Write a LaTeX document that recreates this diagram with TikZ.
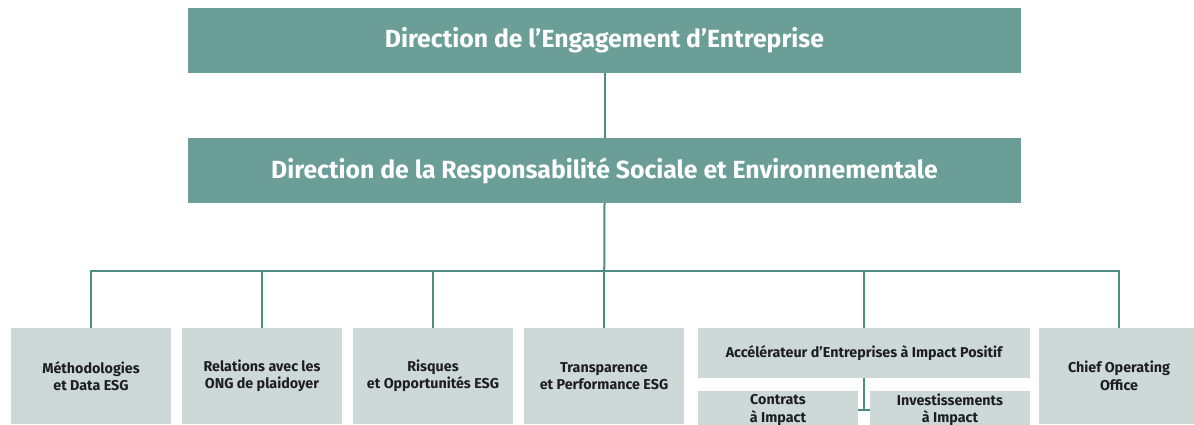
\documentclass[tikz,border=0pt]{standalone}
\usepackage{fontspec}
\setmainfont{Fira Sans}
\definecolor{darkteal}{HTML}{6A9E97}
\definecolor{lightbox}{HTML}{CCD9D7}
\definecolor{linecol}{HTML}{4D8C85}
\definecolor{textdark}{HTML}{1E1E1E}
\begin{document}
\begin{tikzpicture}[x=1pt,y=-1pt,
  headbox/.style={fill=darkteal, draw=none, minimum width=833pt, minimum height=65pt, inner sep=0pt,
    text=white, font=\fontsize{24.8}{28}\selectfont\bfseries},
  unitbox/.style={fill=lightbox, draw=none, minimum width=160pt, minimum height=96pt, inner sep=0pt,
    text=textdark, align=center, font=\fontsize{14.3}{17.5}\selectfont\bfseries},
  subbox/.style={unitbox, minimum height=38pt},
  wideunit/.style={unitbox, minimum width=332pt, minimum height=50pt},
  link/.style={draw=linecol, line width=2pt}]
\useasboundingbox (0,0) rectangle (1194,425);
\clip (0,0) rectangle (1194,425);
\node[headbox] (top) at (604.5,40.5) {Direction de l’Engagement d’Entreprise};
\node[headbox] (rse) at (604.5,170.5) {Direction de la Responsabilité Sociale et Environnementale};
\node[unitbox] (b1) at (91,376) {Méthodologies\\et Data ESG};
\node[unitbox] (b2) at (262,376) {Relations avec les\\ONG de plaidoyer};
\node[unitbox] (b3) at (433,376) {Risques\\et Opportunités ESG};
\node[unitbox] (b4) at (604,376) {Transparence\\et Performance ESG};
\node[wideunit] (acc) at (864,353) {Accélérateur d’Entreprises à Impact Positif};
\node[unitbox] (b6) at (1119,376) {Chief Operating\\Office};
\node[subbox] (c1) at (778,410) {Contrats\\à Impact};
\node[subbox] (c2) at (950,410) {Investissements\\à Impact};
\coordinate (bus) at (604,271);
\draw[link] (top.south) -- (rse.north);
\draw[link] (rse.south) -- (b4.north);
\draw[link] (b1.north) |- (bus) -| (b6.north);
\draw[link] (b2.north) -- (b2.north |- bus);
\draw[link] (b3.north) -- (b3.north |- bus);
\draw[link] (acc.north) -- (acc.north |- bus);
\draw[link] (acc.south) -- (acc.south |- c1.east);
\draw[link] (c1.east) -- (c2.west);
\end{tikzpicture}
\end{document}
